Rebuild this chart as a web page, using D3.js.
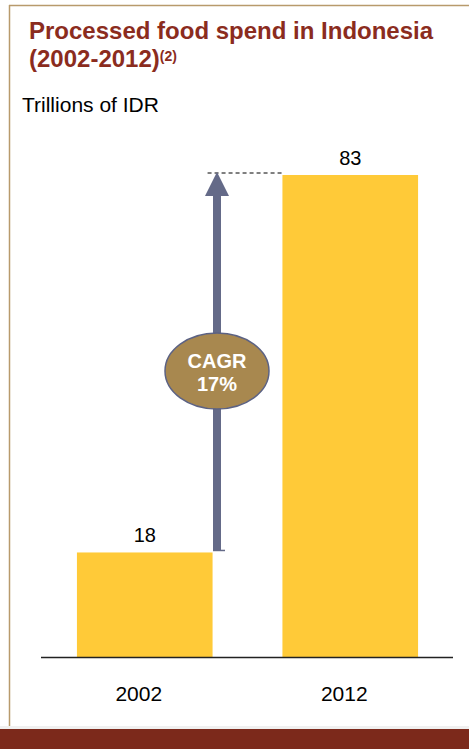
<!DOCTYPE html>
<html><head><meta charset="utf-8">
<script src="https://cdn.jsdelivr.net/npm/d3@7"></script>
<style>html,body{margin:0;padding:0;background:#fff;}svg{display:block;font-family:"Liberation Sans",Arial,sans-serif;}</style>
</head><body>
<script>
const categories = ["2002", "2012"];
const values = [18, 83];
const cagrLabel = ["CAGR", "17%"];
const titleLines = ["Processed food spend in Indonesia", "(2002-2012)"];
const titleSup = "(2)";
const unitLabel = "Trillions of IDR";

const W = 469, H = 749;
const svg = d3.select("body").append("svg").attr("width", W).attr("height", H);

// frame
svg.append("line").attr("x1", 9).attr("x2", W).attr("y1", 5.5).attr("y2", 5.5).attr("stroke", "#b89a6c").attr("stroke-width", 1.5);
svg.append("line").attr("x1", 9.5).attr("x2", 9.5).attr("y1", 5).attr("y2", 727).attr("stroke", "#b89a6c").attr("stroke-width", 1.5);
svg.append("rect").attr("x", 0).attr("y", 726).attr("width", W).attr("height", 3).attr("fill", "#f0f0f0");
svg.append("rect").attr("x", 0).attr("y", 729).attr("width", W).attr("height", 20).attr("fill", "#7c291b");

// title
svg.append("text").attr("x", 29).attr("y", 39).attr("fill", "#8b2c1e").attr("font-weight", "bold").attr("font-size", 24).text(titleLines[0]);
const t2 = svg.append("text").attr("x", 29).attr("y", 67).attr("fill", "#8b2c1e").attr("font-weight", "bold").attr("font-size", 24);
t2.append("tspan").text(titleLines[1]);
t2.append("tspan").attr("font-size", 14).attr("dy", -6).text(titleSup);
svg.append("text").attr("x", 22).attr("y", 112).attr("fill", "#000").attr("font-size", 21).text(unitLabel);

// scales
const x = d3.scaleBand().domain(categories).range([42, 453]).paddingInner(0.34).paddingOuter(0.17);
const y = d3.scaleLinear().domain([0, 83]).range([657, 175]);

svg.selectAll("rect.bar").data(values).join("rect").attr("class", "bar")
  .attr("x", (d, i) => x(categories[i])).attr("width", x.bandwidth())
  .attr("y", d => y(d)).attr("height", d => y(0) - y(d)).attr("fill", "#ffca38");

svg.selectAll("text.val").data(values).join("text").attr("class", "val")
  .attr("x", (d, i) => x(categories[i]) + x.bandwidth() / 2).attr("y", d => y(d) - 10)
  .attr("text-anchor", "middle").attr("font-size", 20).attr("fill", "#000").text(d => d);

// axis
const axis = svg.append("g").attr("transform", `translate(0,${y(0)})`).call(d3.axisBottom(x).tickSize(0).tickPadding(29));
axis.select(".domain").attr("stroke", "#222").attr("stroke-width", 1.5).attr("d", "M41,0.5H453");
axis.selectAll(".tick text").attr("font-size", 21).attr("fill", "#000").attr("font-family", "Liberation Sans, Arial, sans-serif").attr("dx", -6);

// CAGR arrow
const ax = 217;
const yLow = y(values[0]), yHigh = y(values[1]);
svg.append("line").attr("x1", x(categories[0]) + x.bandwidth() - 5).attr("x2", 282).attr("y1", yHigh - 2).attr("y2", yHigh - 2)
  .attr("stroke", "#000").attr("stroke-width", 1).attr("stroke-dasharray", "4,3");
svg.append("rect").attr("x", ax - 4).attr("y", yHigh + 18).attr("width", 8).attr("height", yLow - 2 - (yHigh + 18)).attr("fill", "#646a88");
svg.append("path").attr("d", `M${ax},${yHigh - 3}L${ax + 12},${yHigh + 21}L${ax - 12},${yHigh + 21}Z`).attr("fill", "#646a88");
svg.append("line").attr("x1", ax - 4).attr("x2", ax + 8).attr("y1", yLow - 2).attr("y2", yLow - 2).attr("stroke", "#646a88").attr("stroke-width", 1.5);

svg.append("ellipse").attr("cx", ax).attr("cy", 371).attr("rx", 52).attr("ry", 38)
  .attr("fill", "#a8884f").attr("stroke", "#5c6283").attr("stroke-width", 1.5);
svg.selectAll("text.cagr").data(cagrLabel).join("text").attr("class", "cagr")
  .attr("x", ax).attr("y", (d, i) => 368 + i * 23).attr("text-anchor", "middle")
  .attr("font-weight", "bold").attr("font-size", 20).attr("fill", "#fff").text(d => d);
</script>
</body></html>
